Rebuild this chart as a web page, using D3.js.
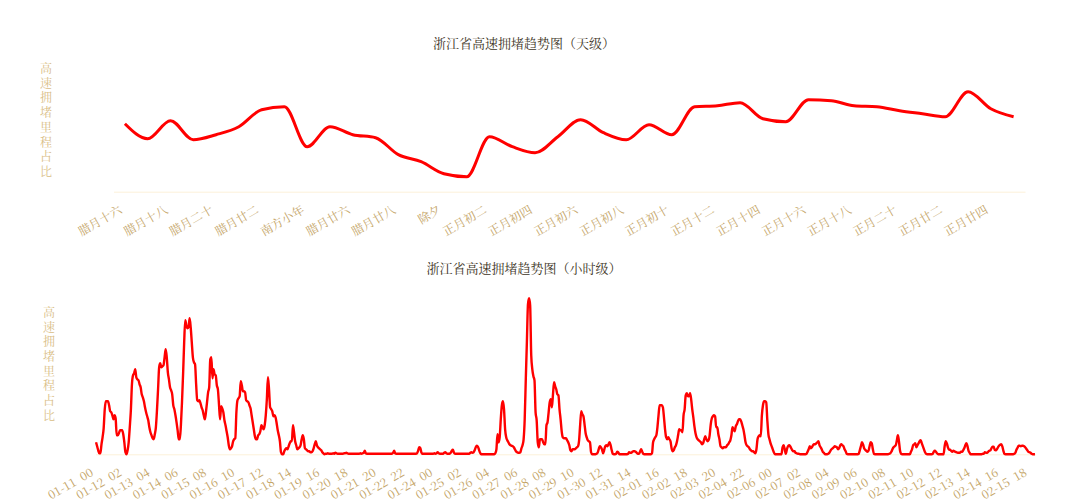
<!DOCTYPE html>
<html>
<head>
<meta charset="utf-8">
<script src="https://cdn.jsdelivr.net/npm/d3@7/dist/d3.min.js"></script>
<style>
  html, body { margin: 0; padding: 0; background: #fff; }
  svg text { font-family: "Noto Serif CJK SC", "Liberation Serif", serif; }
</style>
</head>
<body>
<div id="chart"></div>
<script>
// daily chart: lunar-calendar days
const dayNames = ["腊月十六","腊月十七","腊月十八","腊月十九","腊月二十","腊月廿一","腊月廿二","腊月廿三","南方小年","腊月廿五",
  "腊月廿六","腊月廿七","腊月廿八","腊月廿九","除夕","正月初一","正月初二","正月初三","正月初四","正月初五",
  "正月初六","正月初七","正月初八","正月初九","正月初十","正月十一","正月十二","正月十三","正月十四","正月十五",
  "正月十六","正月十七","正月十八","正月十九","正月二十","正月廿一","正月廿二","正月廿三","正月廿四","正月廿五"];
const dayValues = [6.8, 5.3, 7.1, 5.2, 5.7, 6.5, 8.2, 8.5, 4.5, 6.5,
  5.7, 5.4, 3.7, 3.0, 1.8, 1.5, 5.5, 4.5, 3.9, 5.5,
  7.2, 5.9, 5.2, 6.7, 5.7, 8.5, 8.6, 8.9, 7.3, 7.0,
  9.2, 9.1, 8.6, 8.5, 8.1, 7.8, 7.5, 10.0, 8.3, 7.5];

// hourly chart: 2019-01-11 00 .. 2019-02-15 23, one row per day
const hourStart = new Date(2019, 0, 11, 0);
const hourValuesByDay = [
  [1.2,0.8,0.4,0.1,0.1,1.0,1.7,2.6,4.5,5.3,5.3,5.3,4.9,4.3,4.2,3.9,3.5,3.9,3.6,1.9,1.9,2.1,2.4,2.4],
  [2.4,2.0,1.2,0.2,0.0,0.4,1.2,2.7,4.4,7.0,7.9,8.1,8.5,7.7,7.5,7.4,7.0,6.7,6.0,5.7,5.3,4.7,4.2,3.8],
  [3.4,2.7,2.2,1.9,1.6,1.5,2.0,2.7,4.4,6.5,8.7,9.1,8.7,8.8,8.9,9.7,10.5,9.7,8.2,7.5,6.7,6.4,6.0,4.9],
  [4.5,3.9,3.2,2.4,1.5,1.5,2.9,5.2,8.0,11.2,13.4,12.9,12.6,12.7,13.6,12.7,11.2,9.7,9.2,9.0,7.0,5.4,5.3,5.4],
  [5.1,4.7,4.4,3.9,3.5,4.2,5.2,6.2,6.7,9.5,9.7,7.6,8.5,8.0,7.9,6.9,6.5,5.0,3.5,4.8,4.6,4.2,3.4,2.9],
  [2.3,1.7,0.9,0.5,0.6,0.8,1.3,1.5,1.6,4.2,5.4,5.6,5.8,7.3,6.9,6.3,6.3,6.2,5.4,5.3,5.2,4.9,4.6,3.9],
  [3.2,2.5,1.8,1.5,1.5,1.9,2.0,2.3,2.9,2.7,2.5,2.9,3.9,5.5,7.7,6.5,4.7,4.5,4.3,3.8,3.9,3.7,3.1,2.4],
  [1.9,1.3,0.2,0.0,0.0,0.3,0.5,0.6,0.5,0.8,1.1,1.3,1.3,2.9,2.2,1.3,0.9,0.5,0.6,0.7,0.9,1.5,1.9,1.5],
  [0.6,0.5,0.4,0.3,0.3,0.2,0.2,0.3,0.6,1.0,1.3,0.9,0.7,0.6,0.5,0.4,0.2,0.1,0.0,0.05,0.05,0.1,0.05,0.05],
  [0.05,0.05,0.1,0.05,0.15,0.1,0.05,0.05,0.05,0.05,0.05,0.05,0.1,0.1,0.15,0.1,0.05,0.05,0.05,0.05,0.05,0.05,0.05,0.05],
  [0.05,0.05,0.05,0.1,0.05,0.1,0.15,0.35,0.1,0.05,0.05,0.05,0.05,0.05,0.05,0.05,0.05,0.05,0.05,0.05,0.05,0.05,0.05,0.05],
  [0.05,0.05,0.05,0.05,0.05,0.05,0.05,0.05,0.05,0.15,0.35,0.1,0.05,0.05,0.05,0.05,0.05,0.05,0.05,0.05,0.05,0.05,0.05,0.05],
  [0.05,0.05,0.05,0.05,0.05,0.05,0.05,0.1,0.35,0.7,0.65,0.2,0.05,0.05,0.05,0.05,0.05,0.05,0.05,0.05,0.05,0.05,0.05,0.1],
  [0.05,0.1,0.2,0.1,0.05,0.05,0.05,0.05,0.15,0.2,0.1,0.05,0.05,0.05,0.15,0.35,0.45,0.15,0.05,0.05,0.05,0.05,0.05,0.05],
  [0.05,0.05,0.05,0.05,0.05,0.05,0.05,0.05,0.15,0.2,0.15,0.2,0.4,0.7,0.85,0.75,0.45,0.15,0,0,0,0,0,0],
  [0,0,0,0,0,0,0,0.1,0.5,2.0,1.2,1.7,3.5,4.9,5.3,4.5,2.5,1.7,1.4,1.2,1.0,0.9,0.85,0.8],
  [0.7,0.5,0.3,0.2,0.15,0.15,0.2,0.6,0.9,1.5,3.5,7.5,11.2,15.0,15.6,14.9,9.9,8.5,7.8,7.4,4.2,3.4,1.2,0.7],
  [1.5,1.5,1.5,1.2,1.0,1.0,2.9,3.2,4.2,5.2,5.5,4.7,6.0,7.2,6.8,6.5,6.0,5.9,4.5,3.5,2.3,1.7,1.6,1.6],
  [1.6,1.4,1.2,0.9,0.4,0.3,0.5,0.5,0.5,0.6,0.7,0.8,1.4,3.0,4.3,4.0,3.8,3.0,2.1,1.7,1.4,1.3,1.2,0.2],
  [0,0,0,0,0.05,0.15,0.5,0.8,0.7,0.5,0.1,0.4,0.8,0.9,0.8,1.0,1.2,0.9,0.4,0.05,0,0,0.05,0.25],
  [0.2,0,0,0,0,0,0,0,0,0.05,0.2,0.15,0.15,0.25,0.3,0.3,0.25,0.15,0.05,0.05,0.25,0.5,0.25,0.05],
  [0,0,0,0,0,0,0,0.1,1.2,1.5,1.7,1.9,2.7,3.9,4.9,4.9,4.9,4.7,3.7,2.5,1.7,1.5,1.7,1.5],
  [1.3,0.6,0.3,0.4,0.7,0.9,1.3,1.9,2.5,2.4,2.4,2.2,3.9,4.5,5.9,6.1,5.8,5.8,6.1,5.5,4.5,3.7,2.8,2.1],
  [1.7,1.5,1.4,1.3,1.2,1.0,1.1,1.5,1.8,1.5,1.3,1.4,1.9,3.0,3.6,3.8,3.9,3.8,2.7,2.7,2.0,1.5,0.8,0.7],
  [0.6,0.7,0.7,0.7,0.9,1.0,1.2,1.4,1.9,2.7,2.5,2.3,2.8,3.0,3.3,3.5,3.5,3.3,2.9,2.5,1.9,1.2,0.9,0.8],
  [0.7,0.5,0.4,0.3,0.3,0.2,0.1,0.5,1.5,1.8,1.9,1.8,3.9,4.9,5.3,5.3,5.2,3.4,2.0,1.5,1.1,0.8,0.5,0.2],
  [0,0,0,0,0,0,0,0.7,0.9,0.5,0.05,0.5,0.8,0.9,0.8,0.6,0.4,0.3,0.3,0.15,0.1,0.05,0.05,0],
  [0,0,0,0,0,0.05,0.25,0.5,0.8,0.6,0.7,0.9,1.0,1.0,1.1,1.2,1.3,0.9,0.7,0.5,0.25,0.15,0,0],
  [0,0.05,0.15,0.35,0.5,0.6,0.7,0.8,0.75,0.7,0.5,0.6,0.9,1.0,0.9,0.8,0.5,0.3,0.05,0,0,0,0,0],
  [0,0,0,0,0,0.05,0.4,0.8,1.2,1.0,0.6,0.45,0.35,0.25,0.35,0.8,1.2,1.1,0.5,0.05,0,0,0,0],
  [0,0,0,0,0,0,0,0,0,0.05,0.1,0.25,0.5,0.7,0.8,0.9,1.35,1.9,1.3,0.35,0.05,0,0,0],
  [0,0,0,0,0,0.25,0.5,0.9,1.0,1.1,0.7,0.9,1.1,1.3,1.4,1.1,0.8,0.5,0.2,0.05,0,0,0,0],
  [0,0.05,0.25,0.35,0.25,0.1,0,0,0,0,0,0,0.8,1.3,1.1,0.7,0.45,0.45,0.35,0.25,0.35,0.3,0.25,0.2],
  [0.15,0.15,0.15,0.25,0.25,0.4,0.6,0.9,1.1,0.8,0.35,0.15,0,0,0,0,0,0,0,0,0,0,0,0.05],
  [0.05,0.2,0.15,0.15,0.25,0.35,0.4,0.6,0.75,0.75,0.45,0.4,0.5,0.7,0.85,0.95,1.0,0.8,0.35,0.05,0,0,0,0],
  [0,0,0,0,0.05,0.15,0.45,0.65,0.85,0.85,0.8,0.85,0.85,0.8,0.7,0.55,0.4,0.25,0.2,0.15,0.05,0,0,0]
];
const hourValues = hourValuesByDay.flat();
const fmtHour = d3.timeFormat("%m-%d %H");
const hourLabels = d3.range(hourValues.length).map((i) => fmtHour(d3.timeHour.offset(hourStart, i)));

const yAxisName = "高速拥堵里程占比";
const titleDay = "浙江省高速拥堵趋势图（天级）";
const titleHour = "浙江省高速拥堵趋势图（小时级）";

const width = 1080, height = 501;
const titleColor = "#3d3526";
const labelColor = "#c4a466";
const nameColor = "#d9bd85";
const axisColor = "#fcf1d9";

const svg = d3.select("#chart").append("svg")
  .attr("width", width)
  .attr("height", height);

function drawPanel({ cats, values, xRange, yRange, yMax, every, title, titleY, nameX, nameY0, lineW, wordSpacing }) {
  const x = d3.scaleBand().domain(cats).range(xRange);
  const y = d3.scaleLinear().domain([0, yMax]).range(yRange);
  const g = svg.append("g");

  g.append("text")
    .attr("x", 524)
    .attr("y", titleY)
    .attr("text-anchor", "middle")
    .style("font-size", "13px")
    .attr("fill", titleColor)
    .text(title);

  // vertical axis name, written top to bottom
  g.append("text")
    .attr("x", nameX)
    .attr("y", nameY0 - 6)
    .attr("text-anchor", "start")
    .style("writing-mode", "vertical-rl")
    .style("letter-spacing", "2.7px")
    .style("font-size", "12px")
    .attr("fill", nameColor)
    .text(yAxisName);

  const axisG = g.append("g")
    .attr("transform", `translate(0,${yRange[0]})`)
    .call(d3.axisBottom(x)
      .tickValues(cats.filter((d, i) => i % every === 0))
      .tickSize(0)
      .tickSizeOuter(0));
  axisG.select(".domain").attr("stroke", axisColor).attr("stroke-width", 1);
  axisG.selectAll(".tick text")
    .attr("x", 0)
    .attr("y", 0)
    .attr("dy", "0.35em")
    .attr("transform", "translate(-4,17) rotate(-30)")
    .attr("text-anchor", "end")
    .attr("fill", labelColor)
    .style("font-size", "12px")
    .style("word-spacing", wordSpacing + "px")
    .style("font-family", "\"Noto Serif CJK SC\", \"Liberation Serif\", serif");

  const line = d3.line()
    .x((d, i) => x(cats[i]) + x.bandwidth() / 2)
    .y((d) => y(d))
    .curve(d3.curveMonotoneX);

  g.append("path")
    .datum(values)
    .attr("fill", "none")
    .attr("stroke", "#ff0000")
    .attr("stroke-width", lineW)
    .attr("stroke-linejoin", "round")
    .attr("d", line);
}

drawPanel({
  cats: dayNames, values: dayValues,
  xRange: [113.5, 1025], yRange: [191.7, 71.7], yMax: 12, every: 2,
  title: titleDay, titleY: 48, nameX: 46, nameY0: 68.5, lineW: 3, wordSpacing: 0
});

drawPanel({
  cats: hourLabels, values: hourValues,
  xRange: [95.5, 1035.5], yRange: [454.3, 294.3], yMax: 16, every: 26,
  title: titleHour, titleY: 273, nameX: 49, nameY0: 312.3, lineW: 2.4, wordSpacing: 3
});
</script>
</body>
</html>
